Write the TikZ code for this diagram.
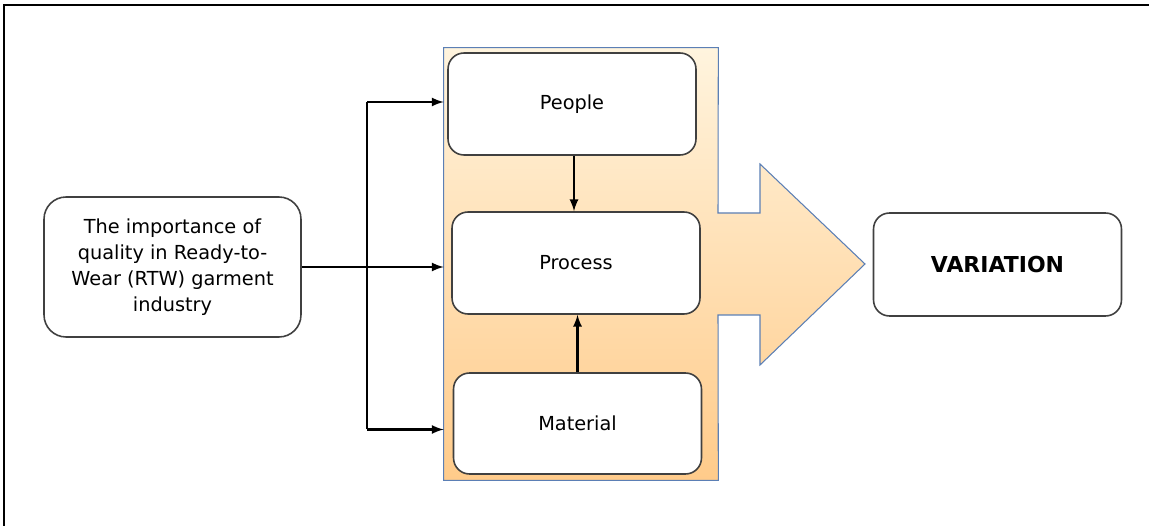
\documentclass[tikz,border=0pt]{standalone}
\usepackage{fontspec}
\setmainfont{DejaVu Sans}
\usetikzlibrary{shapes,arrows,positioning,calc}

\definecolor{paneltop}{RGB}{255,244,222}
\definecolor{panelbot}{RGB}{255,203,138}
\definecolor{panelline}{RGB}{91,127,181}
\definecolor{boxline}{RGB}{64,64,64}

\tikzset{
	box/.style={draw=boxline, line width=0.9pt, fill=white, rounded corners=0.32cm,
		minimum width=4.96cm, minimum height=2.04cm, align=center, font=\fontsize{11}{14.8}\selectfont},
	link/.style={line width=1.3pt, -latex}
}

\begin{document}
\begin{tikzpicture}[x=0.02cm, y=-0.02cm]
	
	\useasboundingbox (0,0) rectangle (1149,526);
	\draw[line width=1.2pt] (1149,5) -- (4,5) -- (4,526);
	
	% orange panel with the big arrow
	\node[minimum width=5.48cm, minimum height=8.64cm, inner sep=0pt] (panel) at (581,264) {};
	\path[draw=panelline, line width=0.6pt, top color=paneltop, bottom color=panelbot]
	(panel.north west) -- (panel.north east) -- (718,213) -- (760,213) -- (760,164)
	-- (865,264) -- (760,365) -- (760,315) -- (718,315) -- (panel.south east)
	-- (panel.south west) -- cycle;
	
	\node[box] (people) at (572,104) {People};
	\node[box] (process) at (576,263) {Process};
	\node[box, minimum height=2.02cm] (material) at (577.5,423.5) {Material};
	\node[box, minimum width=5.14cm, minimum height=2.8cm, rounded corners=0.44cm] (input) at (172.5,267)
	{The importance of\\quality in Ready-to-\\Wear (RTW) garment\\industry};
	\node[box, minimum height=2.06cm, font=\fontsize{12.5}{14}\selectfont\bfseries] (variation) at (997.5,264.5) {VARIATION};
	
	\coordinate (split) at (367,267);
	\coordinate (top) at ([yshift=0.04cm]people.west);
	\coordinate (bot) at ([yshift=-0.12cm]material.west);
	\draw[link] (input.east) -- (input.east -| panel.west);
	\draw[line width=1.3pt] (split |- top) -- (split |- bot);
	\draw[link] (split |- top) -- (top -| panel.west);
	\draw[link] (split |- bot) -- (bot -| panel.west);
	\draw[link] ([xshift=0.04cm]people.south) -- ([xshift=0.04cm]people.south |- process.north);
	\draw[link] (material.north) -- (material.north |- process.south);
	
\end{tikzpicture}
\end{document}
